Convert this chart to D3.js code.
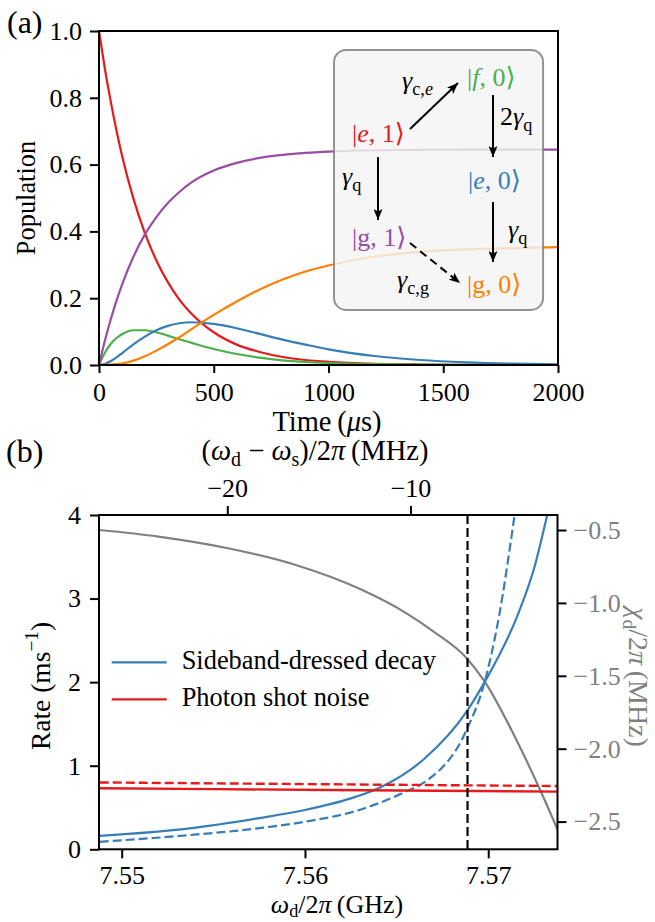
<!DOCTYPE html>
<html>
<head>
<meta charset="utf-8">
<script src="https://cdn.jsdelivr.net/npm/d3@7"></script>
<style>
  body { margin: 0; background: #fff; }
  svg { display: block; }
</style>
</head>
<body>
<div id="chart"></div>
<script>
// ---- panel (a) data: populations vs time (us) ----
const timeUs = [0, 25, 50, 75, 100, 150, 200, 250, 300, 350, 400, 500, 600, 700, 800, 900, 1000, 1200, 1400, 1600, 1800, 2000];
const popE1 = [1.0, 0.890, 0.793, 0.706, 0.628, 0.498, 0.395, 0.313, 0.248, 0.196, 0.156, 0.098, 0.061, 0.039, 0.024, 0.015, 0.0096, 0.0038, 0.0015, 0.0006, 0.0002, 0.0001];
const popF0 = [0, 0.036, 0.062, 0.080, 0.092, 0.104, 0.104, 0.098, 0.088, 0.077, 0.067, 0.048, 0.033, 0.022, 0.014, 0.009, 0.006, 0.0025, 0.001, 0.0004, 0.0002, 0.0001];
const popE0 = [0, 0.003, 0.011, 0.022, 0.035, 0.062, 0.085, 0.104, 0.117, 0.125, 0.128, 0.123, 0.110, 0.093, 0.076, 0.061, 0.047, 0.027, 0.015, 0.008, 0.004, 0.002];
const popG1 = [0, 0.071, 0.134, 0.190, 0.240, 0.324, 0.391, 0.443, 0.485, 0.518, 0.545, 0.582, 0.605, 0.620, 0.629, 0.635, 0.639, 0.643, 0.644, 0.645, 0.645, 0.645];
const popG0 = [0, 0.0003, 0.001, 0.0024, 0.0046, 0.013, 0.026, 0.043, 0.062, 0.083, 0.106, 0.150, 0.190, 0.226, 0.256, 0.280, 0.298, 0.324, 0.339, 0.346, 0.350, 0.353];
const timeTicks = [0, 500, 1000, 1500, 2000];
const popTicks = [0, 0.2, 0.4, 0.6, 0.8, 1.0];

// ---- panel (b) data: rates vs drive frequency (GHz) ----
const chiGHz = [7.5488, 7.5520, 7.5558, 7.5595, 7.5631, 7.5655, 7.5670, 7.5688, 7.5698, 7.5715, 7.5730, 7.5738];
const chiMHz = [-0.50, -0.545, -0.625, -0.74, -0.91, -1.068, -1.195, -1.376, -1.538, -1.93, -2.33, -2.56];
const decayGHz = [7.5488, 7.5537, 7.5574, 7.5600, 7.5628, 7.5641, 7.5665, 7.5688, 7.5698, 7.5716, 7.5725, 7.5732, 7.5736];
const decaySolid = [0.16, 0.25, 0.37, 0.47, 0.63, 0.74, 1.08, 1.64, 2.0, 2.80, 3.36, 3.98, 4.35];
const decayDashGHz = [7.5488, 7.5537, 7.5574, 7.5600, 7.5628, 7.5656, 7.5665, 7.5688, 7.5698, 7.5706, 7.5714, 7.5716];
const decayDashed = [0.09, 0.17, 0.25, 0.33, 0.46, 0.70, 0.80, 1.42, 2.0, 2.80, 3.94, 4.25];
const shotGHz = [7.5488, 7.5613, 7.5738];
const shotSolid = [0.73, 0.71, 0.69];
const shotDashed = [0.80, 0.778, 0.757];
const markerGHz = 7.56887;
const OMEGA_S = 7.57576; // GHz, top axis offset
const ghzTicks = [7.55, 7.56, 7.57];
const rateTicks = [0, 1, 2, 3, 4];
const detuneTicks = [-20, -10];
const chiTicks = [-2.5, -2.0, -1.5, -1.0, -0.5];

const FONT = "'Liberation Serif', 'DejaVu Serif', serif";
const FS = 26;     // tick labels, inset
const TFS = 26.4;  // plain labels, legend
const MFS = 28.5;  // labels with math
const W = 655, H = 922;
const C = { red: '#e41a1c', green: '#4daf4a', blue: '#377eb8', purple: '#984ea3', orange: '#ff7f00', grey: '#808080' };

const svg = d3.select('#chart').append('svg')
    .attr('width', W).attr('height', H)
    .attr('font-family', FONT).attr('font-size', FS);

// mixed text: strings plain, {t, it, sub, sup}
function rich(sel, parts, fs, subShift = 0.22) {
    sel.attr('font-size', fs);
    let off = 0;
    parts.forEach(p => {
        if (typeof p === 'string') p = { t: p };
        const sh = p.sub ? subShift * fs : (p.sup ? -0.42 * fs : 0);
        const ts = sel.append('tspan').attr('dy', sh - off).text(p.t);
        if (p.sub || p.sup) ts.attr('font-size', fs * 0.7);
        if (p.it) ts.attr('font-style', 'italic');
        off = sh;
    });
    return sel;
}

function styleAxis(g) {
    g.attr('font-family', FONT).attr('font-size', FS);
    g.select('.domain').remove();
    g.selectAll('.tick line').attr('stroke', '#000').attr('stroke-width', 2);
    g.selectAll('.tick text').attr('fill', '#000');
}

const defs = svg.append('defs');
defs.append('marker').attr('id', 'arrow')
    .attr('viewBox', '0 0 11 9').attr('refX', 11).attr('refY', 4.5)
    .attr('markerWidth', 11).attr('markerHeight', 9)
    .attr('markerUnits', 'userSpaceOnUse').attr('orient', 'auto')
    .append('path').attr('d', 'M0,0 L11,4.5 L0,9 L2.5,4.5 Z').attr('fill', '#000');

// ================= panel (a) =================
const A = { left: 99, right: 558, top: 31, bottom: 365 };
const xA = d3.scaleLinear().domain([0, 2000]).range([A.left, A.right]);
const yA = d3.scaleLinear().domain([0, 1]).range([A.bottom, A.top]);

const gA = svg.append('g');
const lineA = ys => d3.line().x((d, i) => xA(timeUs[i])).y(d => yA(d)).curve(d3.curveMonotoneX)(ys);
[[popE1, C.red], [popF0, C.green], [popE0, C.blue], [popG1, C.purple], [popG0, C.orange]].forEach(([ys, col]) => {
    gA.append('path').attr('d', lineA(ys)).attr('fill', 'none').attr('stroke', col).attr('stroke-width', 2.2);
});

// inset level diagram
const bx = xA(1024), by = yA(0.943), bw = xA(1935) - bx, bh = yA(0.165) - by;
const inset = gA.append('g').attr('transform', `translate(${bx},${by})`);
inset.append('rect').attr('width', bw).attr('height', bh).attr('rx', 12)
    .attr('fill', '#f4f4f4').attr('fill-opacity', 0.82)
    .attr('stroke', '#808080').attr('stroke-opacity', 0.85).attr('stroke-width', 2);

const kets = [
    { x: 133, y: 36, s: 'f', it: true, n: '0', col: C.green },
    { x: 18, y: 92, s: 'e', it: true, n: '1', col: C.red },
    { x: 134, y: 139, s: 'e', it: true, n: '0', col: C.blue },
    { x: 18, y: 196, s: 'g', it: false, n: '1', col: C.purple },
    { x: 133, y: 243, s: 'g', it: false, n: '0', col: C.orange }
];
kets.forEach(k => {
    const t = inset.append('text').attr('x', k.x).attr('y', k.y).attr('fill', k.col);
    rich(t, ['|', { t: k.s, it: k.it }, ', ' + k.n, '\u27E9'], FS);
});

const arrows = [
    { x1: 76, y1: 79, x2: 124, y2: 33, dash: null },
    { x1: 159, y1: 45, x2: 159, y2: 107, dash: null },
    { x1: 44, y1: 107, x2: 44, y2: 170, dash: null },
    { x1: 159, y1: 152, x2: 159, y2: 212, dash: null },
    { x1: 76, y1: 193, x2: 126, y2: 233, dash: '8,5' }
];
arrows.forEach(a => {
    inset.append('line').attr('x1', a.x1).attr('y1', a.y1).attr('x2', a.x2).attr('y2', a.y2)
        .attr('stroke', '#000').attr('stroke-width', 2)
        .attr('stroke-dasharray', a.dash).attr('marker-end', 'url(#arrow)');
});

const rateLabels = [
    { x: 68, y: 39, parts: [{ t: '\u03B3', it: true }, { t: 'c,', sub: true }, { t: 'e', sub: true, it: true }] },
    { x: 166, y: 75, parts: ['2', { t: '\u03B3', it: true }, { t: 'q', sub: true }] },
    { x: 8, y: 135, parts: [{ t: '\u03B3', it: true }, { t: 'q', sub: true }] },
    { x: 174, y: 188, parts: [{ t: '\u03B3', it: true }, { t: 'q', sub: true }] },
    { x: 63, y: 238, parts: [{ t: '\u03B3', it: true }, { t: 'c,g', sub: true }] }
];
rateLabels.forEach(l => rich(inset.append('text').attr('x', l.x).attr('y', l.y).attr('fill', '#000'), l.parts, FS));

// axes (a)
gA.append('g').attr('transform', `translate(0,${A.bottom})`)
    .call(d3.axisBottom(xA).tickValues(timeTicks).tickSize(8).tickPadding(10).tickFormat(d3.format('d')))
    .call(styleAxis);
gA.append('g').attr('transform', `translate(${A.left},0)`)
    .call(d3.axisLeft(yA).tickValues(popTicks).tickSize(9).tickPadding(8).tickFormat(d3.format('.1f')))
    .call(styleAxis);
gA.append('rect').attr('x', A.left).attr('y', A.top).attr('width', A.right - A.left).attr('height', A.bottom - A.top)
    .attr('fill', 'none').attr('stroke', '#000').attr('stroke-width', 2);

rich(svg.append('text').attr('x', 327).attr('y', 431).attr('text-anchor', 'middle'),
    ['Time\u2009(', { t: '\u03BC', it: true }, 's)'], MFS);
svg.append('text').attr('transform', 'translate(35,198) rotate(-90)').attr('text-anchor', 'middle')
    .attr('font-size', TFS).text('Population');
svg.append('text').attr('x', 7).attr('y', 33).attr('font-size', 32).text('(a)');

// ================= panel (b) =================
const B = { left: 99, right: 557.5, top: 515, bottom: 849.3 };
const xB = d3.scaleLinear().domain([7.54876, 7.57378]).range([B.left, B.right]);
const yB = d3.scaleLinear().domain([0, 4]).range([B.bottom, B.top]);
const yChi = d3.scaleLinear().domain([-2.69, -0.397]).range([B.bottom, B.top]);
const xTop = d3.scaleLinear().domain(xB.domain().map(g => (g - OMEGA_S) * 1000)).range(xB.range());

defs.append('clipPath').attr('id', 'clipB').append('rect')
    .attr('x', B.left).attr('y', B.top).attr('width', B.right - B.left).attr('height', B.bottom - B.top);
const gB = svg.append('g');
const plotB = gB.append('g').attr('clip-path', 'url(#clipB)');

const lineB = (xs, ys, yScale) => d3.line().x((d, i) => xB(xs[i])).y(d => yScale(d)).curve(d3.curveMonotoneX)(ys);

plotB.append('path').attr('d', lineB(chiGHz, chiMHz, yChi)).attr('fill', 'none').attr('stroke', C.grey).attr('stroke-width', 2.2);
plotB.append('path').attr('d', lineB(decayGHz, decaySolid, yB)).attr('fill', 'none').attr('stroke', C.blue).attr('stroke-width', 2.2);
plotB.append('path').attr('d', lineB(decayDashGHz, decayDashed, yB)).attr('fill', 'none').attr('stroke', C.blue).attr('stroke-width', 2.2).attr('stroke-dasharray', '9,4');
plotB.append('path').attr('d', lineB(shotGHz, shotSolid, yB)).attr('fill', 'none').attr('stroke', C.red).attr('stroke-width', 2.4);
plotB.append('path').attr('d', lineB(shotGHz, shotDashed, yB)).attr('fill', 'none').attr('stroke', C.red).attr('stroke-width', 2.4).attr('stroke-dasharray', '9,4');
plotB.append('line').attr('x1', xB(markerGHz)).attr('x2', xB(markerGHz)).attr('y1', B.top).attr('y2', B.bottom)
    .attr('stroke', '#000').attr('stroke-width', 2.2).attr('stroke-dasharray', '9,4');

// axes (b)
gB.append('g').attr('transform', `translate(0,${B.bottom})`)
    .call(d3.axisBottom(xB).tickValues(ghzTicks).tickSize(9).tickPadding(7).tickFormat(d3.format('.2f')))
    .call(styleAxis);
gB.append('g').attr('transform', `translate(${B.left},0)`)
    .call(d3.axisLeft(yB).tickValues(rateTicks).tickSize(9).tickPadding(9).tickFormat(d3.format('d')))
    .call(styleAxis);
gB.append('g').attr('transform', `translate(0,${B.top})`)
    .call(d3.axisTop(xTop).tickValues(detuneTicks).tickSize(9).tickPadding(9).tickFormat(d3.format('d')))
    .call(styleAxis);
gB.append('g').attr('transform', `translate(${B.right},0)`)
    .call(d3.axisRight(yChi).tickValues(chiTicks).tickSize(9).tickPadding(7).tickFormat(d3.format('.1f')))
    .call(styleAxis)
    .call(g => g.selectAll('.tick text').attr('fill', C.grey));
gB.append('rect').attr('x', B.left).attr('y', B.top).attr('width', B.right - B.left).attr('height', B.bottom - B.top)
    .attr('fill', 'none').attr('stroke', '#000').attr('stroke-width', 2);

// legend
const legend = [{ label: 'Sideband-dressed decay', col: C.blue, y: 662.3 }, { label: 'Photon shot noise', col: C.red, y: 699.3 }];
legend.forEach(l => {
    gB.append('line').attr('x1', 111.7).attr('x2', 166.7).attr('y1', l.y).attr('y2', l.y).attr('stroke', l.col).attr('stroke-width', 2.2);
    gB.append('text').attr('x', 181.7).attr('y', l.y + 6.5).attr('font-size', TFS).text(l.label);
});

// labels (b)
rich(svg.append('text').attr('x', 337).attr('y', 913).attr('text-anchor', 'middle'),
    [{ t: '\u03C9', it: true }, { t: 'd', sub: true }, '/2', { t: '\u03C0', it: true }, '\u2009(GHz)'], 26, 0.15);
rich(svg.append('text').attr('x', 315).attr('y', 460).attr('text-anchor', 'middle'),
    ['(', { t: '\u03C9', it: true }, { t: 'd', sub: true }, ' \u2212 ', { t: '\u03C9', it: true }, { t: 's', sub: true }, ')/2', { t: '\u03C0', it: true }, '\u2009(MHz)'], MFS);
rich(svg.append('text').attr('transform', 'translate(50,686) rotate(-90)').attr('text-anchor', 'middle'),
    ['Rate (ms', { t: '\u22121', sup: true }, ')'], 27.5);
rich(svg.append('text').attr('transform', 'translate(629,677) rotate(90)').attr('text-anchor', 'middle').attr('fill', C.grey),
    [{ t: '\u03C7', it: true }, { t: 'd', sub: true }, '/2', { t: '\u03C0', it: true }, '\u2009(MHz)'], 28);
svg.append('text').attr('x', 6).attr('y', 462).attr('font-size', 32).text('(b)');
</script>
</body>
</html>
